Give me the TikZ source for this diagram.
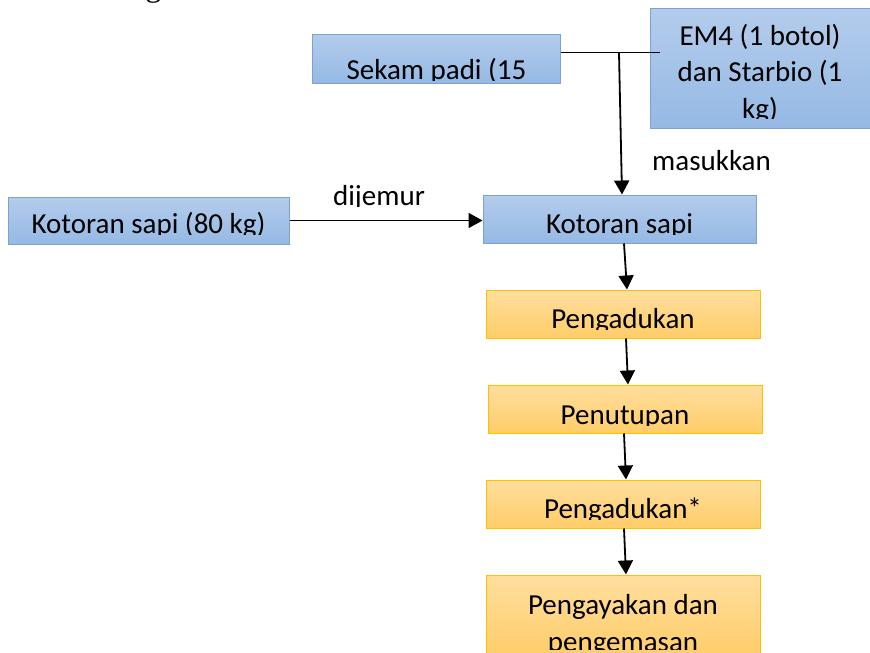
\documentclass[tikz,border=0pt]{standalone}
\usepackage{fontspec}
\setmainfont{Carlito}
\newfontfamily\hurufserif{Liberation Serif}
\usetikzlibrary{positioning, arrows.meta}

\definecolor{biruatas}{RGB}{180,204,236}
\definecolor{birubawah}{RGB}{149,185,228}
\definecolor{birugaris}{RGB}{122,162,212}
\definecolor{oranyeatas}{RGB}{255,222,158}
\definecolor{oranyebawah}{RGB}{255,205,104}
\definecolor{oranyegaris}{RGB}{255,192,0}

\tikzset{
    kotakbiru/.style={draw=birugaris, line width=1pt, top color=biruatas, bottom color=birubawah, minimum width=273pt, minimum height=48pt, inner sep=0pt},
    kotakoranye/.style={draw=oranyegaris, line width=1pt, top color=oranyeatas, bottom color=oranyebawah, minimum width=274pt, minimum height=48pt, inner sep=0pt},
    isi/.style n args={3}{path picture={
        \clip ([yshift=#3]path picture bounding box.south west) rectangle (path picture bounding box.north east);
        \node[anchor=base, inner sep=0pt, align=center, font=\fontsize{29}{36.5}\selectfont] at ([yshift=-#2]path picture bounding box.north) {#1};}},
    panah/.style={-{Triangle[length=14pt, width=15pt]}, line width=1.8pt},
}

\begin{document}
\begin{tikzpicture}[x=1pt, y=-1pt, node distance=46pt]
    \useasboundingbox (0,0) rectangle (870,653);
    \node[font=\hurufserif\fontsize{31.6}{38}\selectfont, anchor=base west, inner sep=0pt] (pengantar) at (-1,-3) {adalah sebagai berikut:};

    \node[kotakbiru, minimum width=248pt, minimum height=49pt, isi={Sekam padi (15}{45pt}{3pt}] (sekam) at (436.5,58.5) {};
    \node[kotakbiru, minimum width=220pt, minimum height=120pt, isi={EM4 (1 botol)\\dan Starbio (1\\kg)}{110pt}{10pt}] (em4) at (760,68) {};
    \node[kotakbiru, minimum width=281pt, minimum height=47pt, isi={Kotoran sapi (80 kg)}{36pt}{10pt}] (kotoran) at (148.5,220.5) {};
    \node[kotakbiru, isi={Kotoran sapi}{38pt}{9pt}] (sapi) at (619.5,219) {};
    \node[kotakoranye, below=of sapi, xshift=3.5pt, isi={Pengadukan}{38pt}{9pt}] (aduk) {};
    \node[kotakoranye, below=of aduk, xshift=2pt, isi={Penutupan}{39pt}{8pt}] (tutup) {};
    \node[kotakoranye, below=of tutup, xshift=-2pt, isi={Pengadukan*}{38pt}{9pt}] (aduk2) {};
    \node[kotakoranye, minimum height=84pt, below=of aduk2, isi={Pengayakan dan\\pengemasan}{76pt}{10pt}] (ayak) {};

    \node[font=\fontsize{29}{36}\selectfont, anchor=base west, inner sep=0pt] (masukkan) at (652,170) {masukkan};
    \node[minimum width=100pt, minimum height=30pt, inner sep=0pt, isi={dijemur}{28pt}{1pt}] (dijemur) at (379,192) {};
    \coordinate (gabung) at (619,53);

    \draw[line width=1pt] ([yshift=6.5pt]sekam.east) -- ([xshift=10pt, yshift=6.5pt]sekam.east -| em4.west);
    \draw[panah] (gabung) -- ([xshift=2.5pt]sapi.north);
    \draw[panah] (kotoran.east) -- (kotoran.east -| sapi.west);
    \draw[panah] ([xshift=4.5pt]sapi.south) -- ([xshift=4pt]aduk.north);
    \draw[panah] ([xshift=3pt]aduk.south) -- ([xshift=3pt]tutup.north);
    \draw[panah] ([xshift=-1pt]tutup.south) -- ([xshift=3pt]aduk2.north);
    \draw[panah] ([xshift=1pt]aduk2.south) -- ([xshift=3pt]ayak.north);
\end{tikzpicture}
\end{document}
